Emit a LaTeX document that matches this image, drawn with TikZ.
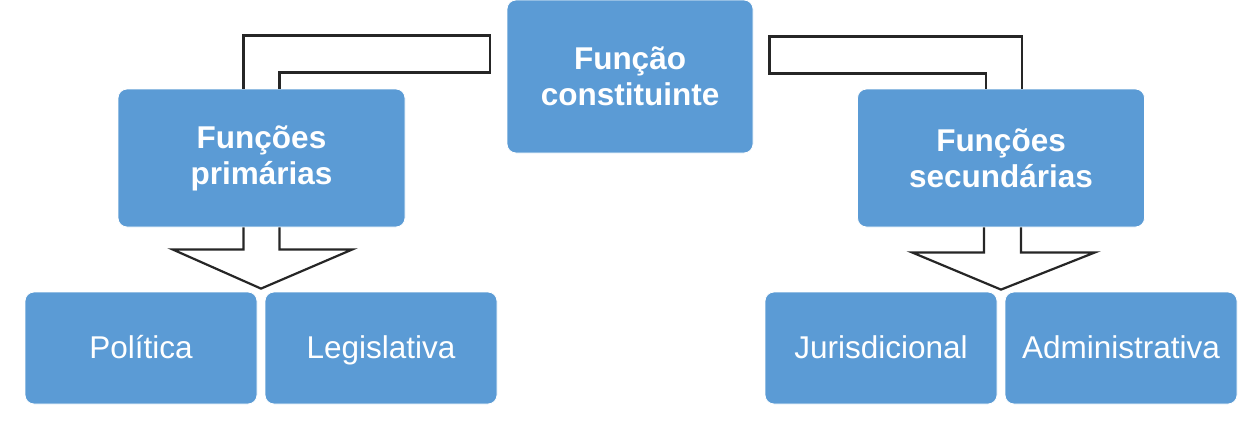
\documentclass[tikz,border=0pt]{standalone}
\usepackage{fontspec}
\setmainfont{Liberation Sans}
\definecolor{funcAzul}{HTML}{5B9BD5}
\definecolor{funcContorno}{HTML}{262626}
\usetikzlibrary{
	positioning,
	calc
}
\tikzset{
	caixa/.style={
		draw=white,
		line width=0.8pt,
		rounded corners=9pt,
		fill=funcAzul,
		text=white,
		align=center,
		inner sep=0pt,
		font=\fontsize{31.5}{36}\selectfont\bfseries
	},
	caixaBaixa/.style={
		caixa,
		minimum width=232pt,
		minimum height=112pt,
		text height=22pt,
		text depth=2pt,
		font=\fontsize{31.5}{36}\selectfont
	},
	contorno/.style={
		draw=funcContorno,
		line width=2.2pt,
		fill=white,
		line join=miter
	}
}

\begin{document}
\begin{tikzpicture}[x=1pt, y=-1pt]
		\useasboundingbox (0,0) rectangle (1246,423);
		% caixas de cima
		\node[caixa, minimum width=246pt, minimum height=153pt] (const) at (630,76.5) {Função\\constituinte};
		\node[caixa, minimum width=287pt, minimum height=138pt] (prim) at (261.5,158) {Funções\\primárias};
		\node[caixa, minimum width=287pt, minimum height=138pt] (sec) at (1001,158) {Funções\\secundárias};
		% caixas de baixo
		\node[caixaBaixa] (pol) at (141,348) {Política};
		\node[caixaBaixa] (leg) at (381,348) {Legislativa};
		\node[caixaBaixa] (jur) at (881,348) {Jurisdicional};
		\node[caixaBaixa] (adm) at (1121,348) {Administrativa};
		% setas em L
		\filldraw[contorno] ([xshift=-18pt]prim.north) |- ([xshift=-17pt,yshift=41pt]const.west)
			-- ([xshift=-17pt,yshift=4pt]const.west) -| ([xshift=18pt]prim.north);
		\filldraw[contorno] ([xshift=21pt]sec.north) |- ([xshift=16pt,yshift=40pt]const.east)
			-- ([xshift=16pt,yshift=3pt]const.east) -| ([xshift=-15pt]sec.north);
		% setas para baixo
		\filldraw[contorno] ([xshift=-18pt]prim.south) -- ++(0,22) -- ++(-71,0)
			-- ($(pol.north east)!0.5!(leg.north west)+(0,-3)$)
			-- ([xshift=91pt,yshift=-22pt]prim.south) -- ([xshift=18pt,yshift=-22pt]prim.south)
			-- ([xshift=18pt]prim.south);
		\filldraw[contorno] ([xshift=-17pt]sec.south) -- ++(0,25) -- ++(-72,0)
			-- ($(jur.north east)!0.5!(adm.north west)+(0,-2)$)
			-- ([xshift=94pt,yshift=-25pt]sec.south) -- ([xshift=20pt,yshift=-25pt]sec.south)
			-- ([xshift=20pt]sec.south);
	\end{tikzpicture}
\end{document}
